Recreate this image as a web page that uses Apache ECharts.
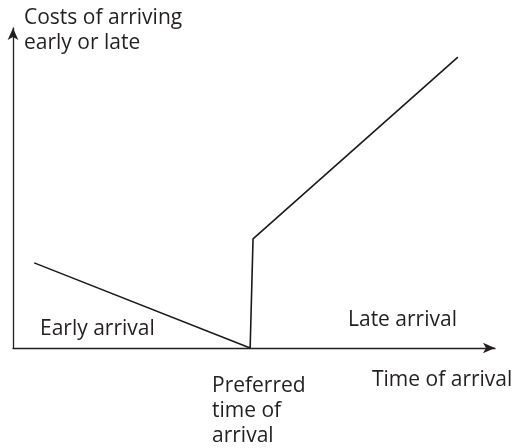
<!DOCTYPE html>
<html lang="en">
<head>
	<meta charset="utf-8">
	<title>Costs of arriving early or late</title>
	<script src="https://cdn.jsdelivr.net/npm/echarts@6/dist/echarts.min.js"></script>
	<style>
		html, body { margin: 0; padding: 0; background: #fff; }
		#panel { width: 518px; height: 448px; }
	</style>
</head>
<body>
	<div id="panel"></div>
	<script type="text/javascript">
		// 曲线上的点 (时间, 成本)
		const arrivalTime = [4.4, 49.2, 49.8, 92.3];
		const arrivalCost = [26.6, 0, 34.1, 90.9];
		const yTitle = "Costs of arriving\nearly or late";
		const xTitle = "Time of arrival";
		const preferredLabel = "Preferred\ntime of\narrival";
		const earlyLabel = "Early arrival";
		const lateLabel = "Late arrival";

		const panel = echarts.init(document.getElementById("panel"));
		const font = "'Open Sans', 'Noto Sans', sans-serif";
		const txt = (x, y, text) => ({
			type: 'text', left: x, top: y,
			style: { text: text, font: '21px ' + font, fill: '#231f20', lineHeight: 25 }
		});

		let option = {
			animation: false,
			grid: { left: 13, right: 23, top: 28, bottom: 100 },
			xAxis: {
				type: 'value', min: 0, max: 100,
				axisLine: { show: true, symbol: ['none', 'arrow'], symbolSize: [8, 12], lineStyle: { color: '#231f20', width: 1.3 } },
				axisTick: { show: false }, axisLabel: { show: false }, splitLine: { show: false }
			},
			yAxis: {
				type: 'value', min: 0, max: 100,
				axisLine: { show: true, symbol: ['none', 'arrow'], symbolSize: [8, 12], lineStyle: { color: '#231f20', width: 1.3 } },
				axisTick: { show: false }, axisLabel: { show: false }, splitLine: { show: false }
			},
			series: [{
				type: 'line',
				data: arrivalTime.map((t, i) => [t, arrivalCost[i]]),
				symbol: 'none',
				lineStyle: { color: '#1a1a1a', width: 1.6 }
			}],
			graphic: [
				txt(24, 5.8, yTitle),
				txt(40, 316.8, earlyLabel),
				txt(348, 307.8, lateLabel),
				txt(372, 367.8, xTitle),
				txt(212, 373.8, preferredLabel)
			]
		};
		panel.setOption(option);
	</script>
</body>
</html>
